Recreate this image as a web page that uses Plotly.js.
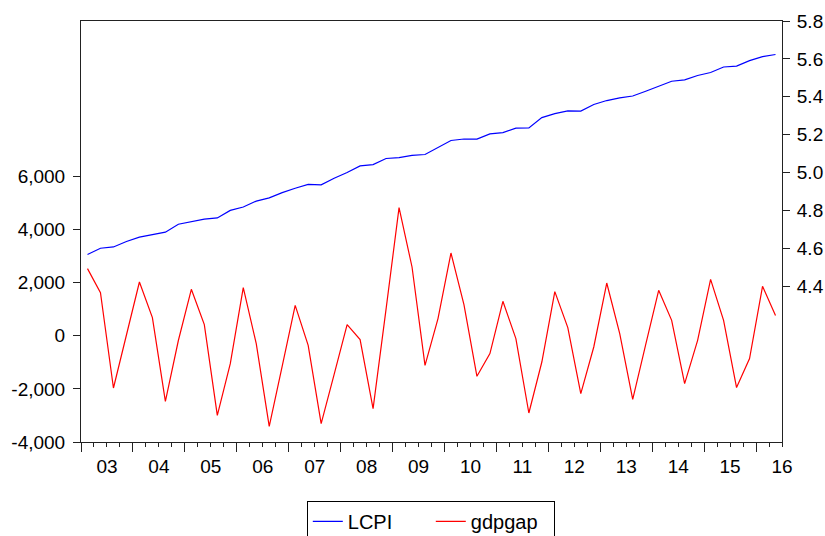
<!DOCTYPE html>
<html>
<head>
<meta charset="utf-8">
<script src="https://cdn.plot.ly/plotly-3.0.1.min.js"></script>
<style>html,body{margin:0;padding:0;background:#fff;}#chart{width:825px;height:536px;}</style>
</head>
<body>
<div id="chart"></div>
<script>
// Quarterly observations 2003Q1 - 2016Q2
const yearLabels = ['03','04','05','06','07','08','09','10','11','12','13','14','15','16'];
const lcpi = [4.567,4.600,4.607,4.636,4.659,4.674,4.685,4.727,4.739,4.754,4.760,4.800,4.818,4.849,
              4.866,4.894,4.917,4.937,4.935,4.970,5.000,5.035,5.042,5.074,5.079,5.090,5.095,5.130,
              5.169,5.177,5.176,5.204,5.211,5.234,5.235,5.290,5.311,5.325,5.324,5.359,5.380,5.394,
              5.404,5.429,5.457,5.482,5.489,5.512,5.528,5.557,5.562,5.591,5.612,5.623];
const gdpgap = [2526,1622,-1968,27,2022,680,-2469,-180,1747,417,-2996,-1051,1809,-300,
                -3410,-1140,1144,-361,-3310,-1453,417,-147,-2745,1000,4820,2587,-1114,644,
                3113,1171,-1528,-674,1295,-109,-2909,-990,1660,305,-2179,-424,1984,79,
                -2394,-335,1709,580,-1803,-173,2123,580,-1953,-862,1860,757];
const leftTicks = [-4000,-2000,0,2000,4000,6000];
const leftTickText = ['-4,000','-2,000','0','2,000','4,000','6,000'];
const rightTicks = [4.4,4.6,4.8,5.0,5.2,5.4,5.6,5.8];
const rightTickText = ['4.4','4.6','4.8','5.0','5.2','5.4','5.6','5.8'];

const xIdx = lcpi.map((_, i) => i);
const yearStarts = yearLabels.map((_, k) => 4 * k - 0.5);

const traces = [
  {x: xIdx, y: lcpi, name: 'LCPI', type: 'scatter', mode: 'lines',
   line: {color: '#0000ff', width: 1.2}, yaxis: 'y2'},
  {x: xIdx, y: gdpgap, name: 'gdpgap', type: 'scatter', mode: 'lines',
   line: {color: '#ff0000', width: 1.2}, yaxis: 'y'}
];

const layout = {
  width: 825, height: 536,
  margin: {l: 81, r: 43, t: 21, b: 94, autoexpand: false},
  paper_bgcolor: '#fff', plot_bgcolor: '#fff',
  font: {family: 'Liberation Sans, Arial, sans-serif', size: 19, color: '#000'},
  showlegend: true,
  legend: {orientation: 'h', x: 0.499, xanchor: 'center', y: -0.14, yanchor: 'top',
           bordercolor: '#000', borderwidth: 1, font: {size: 20}, traceorder: 'normal',
           entrywidth: 78, entrywidthmode: 'pixels'},
  xaxis: {
    range: [-0.5, 53.5], showgrid: false, zeroline: false,
    showline: true, linecolor: '#222', linewidth: 1, mirror: true,
    tickmode: 'array', tickvals: yearStarts, ticktext: yearLabels,
    ticks: 'outside', ticklen: 9, tickcolor: '#222', tickwidth: 1,
    ticklabelshift: 26, ticklabelstandoff: -2, tickfont: {size: 19},
    minor: {tickmode: 'linear', tick0: -0.5, dtick: 1, ticks: 'outside', ticklen: 4, tickcolor: '#222', showgrid: false}
  },
  yaxis: {
    range: [-4000, 11845], showgrid: false, zeroline: false,
    showline: true, linecolor: '#222', linewidth: 1,
    tickmode: 'array', tickvals: leftTicks, ticktext: leftTickText,
    ticks: 'outside', ticklen: 7, tickcolor: '#222', ticklabelstandoff: 4, tickfont: {size: 19}
  },
  yaxis2: {
    range: [3.577, 5.8], overlaying: 'y', side: 'right', showgrid: false, zeroline: false,
    showline: true, linecolor: '#222', linewidth: 1,
    tickmode: 'array', tickvals: rightTicks, ticktext: rightTickText,
    ticks: 'outside', ticklen: 7, tickcolor: '#222', ticklabelstandoff: 3, tickfont: {size: 19}
  }
};

Plotly.newPlot('chart', traces, layout, {displayModeBar: false, staticPlot: true});
</script>
</body>
</html>
